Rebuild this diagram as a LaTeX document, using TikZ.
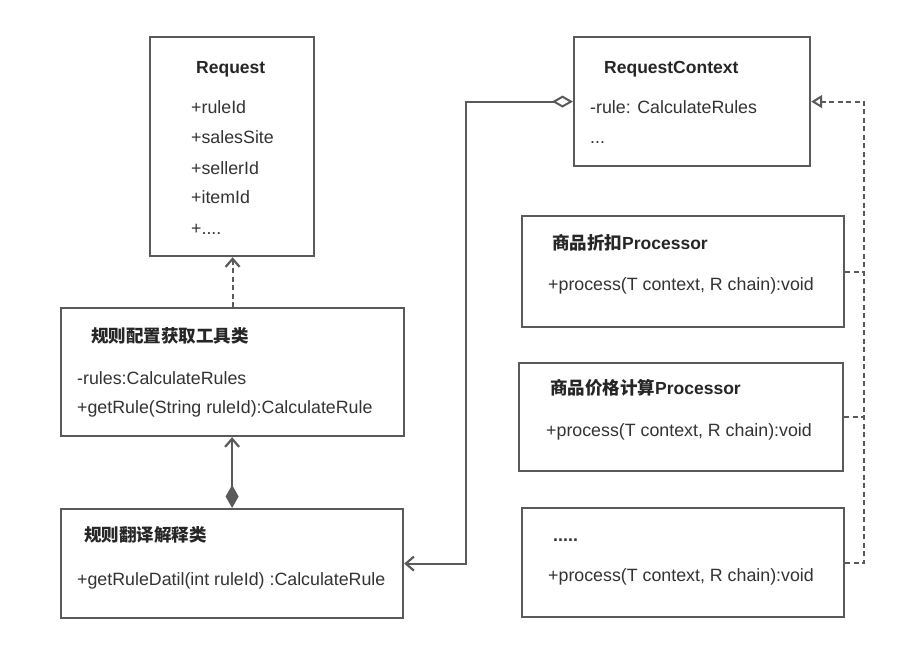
\documentclass[tikz,border=0pt]{standalone}
\usepackage{fontspec}
\setmainfont{Liberation Sans}
\newfontfamily\cjk{Noto Sans CJK SC}
\usetikzlibrary{arrows.meta,calc}
\definecolor{linec}{HTML}{5A5A5A}
\definecolor{txtc}{HTML}{333333}
\tikzset{
  box/.style={draw=linec, line width=2.2pt, fill=white, inner sep=0pt, anchor=north west},
  lbl/.style={anchor=base west, inner sep=0pt, text=txtc, font=\fontsize{17.8}{20}\selectfont},
  ttl/.style={lbl, font=\fontsize{17.5}{20}\selectfont\bfseries, text=black!85},
  conn/.style={draw=linec, line width=2.2pt},
  dashconn/.style={draw=linec, line width=2.2pt, dash pattern=on 5pt off 3.5pt},
  barb/.tip={Straight Barb[length=8pt,width=14pt,line width=2.2pt]},
  otri/.tip={Triangle[open,length=11pt,width=13pt,line width=2pt,fill=white]},
  odia/.tip={Diamond[open,length=21pt,width=12pt,line width=2pt,fill=white]},
  fdia/.tip={Diamond[length=23pt,width=13pt]}
}
\begin{document}
\begin{tikzpicture}[x=1pt,y=-1pt]
\useasboundingbox[fill=white] (0,0) rectangle (909,661);

% boxes
\node[box, minimum width=164pt, minimum height=219pt] (req) at (149,36) {};
\node[box, minimum width=236pt, minimum height=129pt] (ctx) at (573,36) {};
\node[box, minimum width=343pt, minimum height=128pt] (cfg) at (60,307) {};
\node[box, minimum width=342pt, minimum height=109pt] (trans) at (60,508) {};
\node[box, minimum width=322pt, minimum height=111pt] (p1) at (521,215) {};
\node[box, minimum width=324pt, minimum height=108pt] (p2) at (518,362) {};
\node[box, minimum width=322pt, minimum height=109pt] (p3) at (521,507) {};

% Request texts
\node[ttl] (reqt) at (196,73) {Request};
\node[lbl] (req1) at (191,113) {+ruleId};
\node[lbl] (req2) at (191,143) {+salesSite};
\node[lbl] (req3) at (191,174) {+sellerId};
\node[lbl] (req4) at (191,203) {+itemId};
\node[lbl] (req5) at (191,234) {+....};

% RequestContext texts
\node[ttl] (ctxt) at (604,73) {RequestContext};
\node[lbl] (ctx1) at (590,113) {-rule: CalculateRules};
\node[lbl] (ctx2) at (590,143) {...};

% cfg texts
\node[ttl] (cfgt) at (91,342) {\cjk\bfseries 规则配置获取工具类};
\node[lbl] (cfg1) at (77,384) {-rules:CalculateRules};
\node[lbl] (cfg2) at (77,413) {+getRule(String ruleId):CalculateRule};

% trans texts
\node[ttl] (transt) at (84,541) {\cjk\bfseries 规则翻译解释类};
\node[lbl] (trans1) at (77,585) {+getRuleDatil(int ruleId) :CalculateRule};

% processors
\node[ttl] (p1t) at (552,249) {{\cjk\bfseries 商品折扣}Processor};
\node[lbl] (p1a) at (548,290) {+process(T context, R chain):void};
\node[ttl] (p2t) at (550,394) {{\cjk\bfseries 商品价格计算}Processor};
\node[lbl] (p2a) at (546,436) {+process(T context, R chain):void};
\node[lbl] (p3t) at (553,541) {\textbf{.....}};
\node[lbl] (p3a) at (548,581) {+process(T context, R chain):void};

% connectors
\draw[dashconn, -{barb}] (cfg.north) -- (cfg.north |- req.south);
\draw[conn, {fdia}-{barb}] (trans.north) -- (trans.north |- cfg.south);
\draw[conn, {odia}-{barb}] (ctx.west) -- ++(-107,0) |- (trans.east);
\coordinate (rail) at ($(p3.east)+(19,0)$);
\draw[dashconn, -{otri}] (p3.east) -- (rail) |- (ctx.east);
\draw[dashconn] (p1.east) -- (p1.east -| rail);
\draw[dashconn] (p2.east) -- (p2.east -| rail);
\end{tikzpicture}
\end{document}
